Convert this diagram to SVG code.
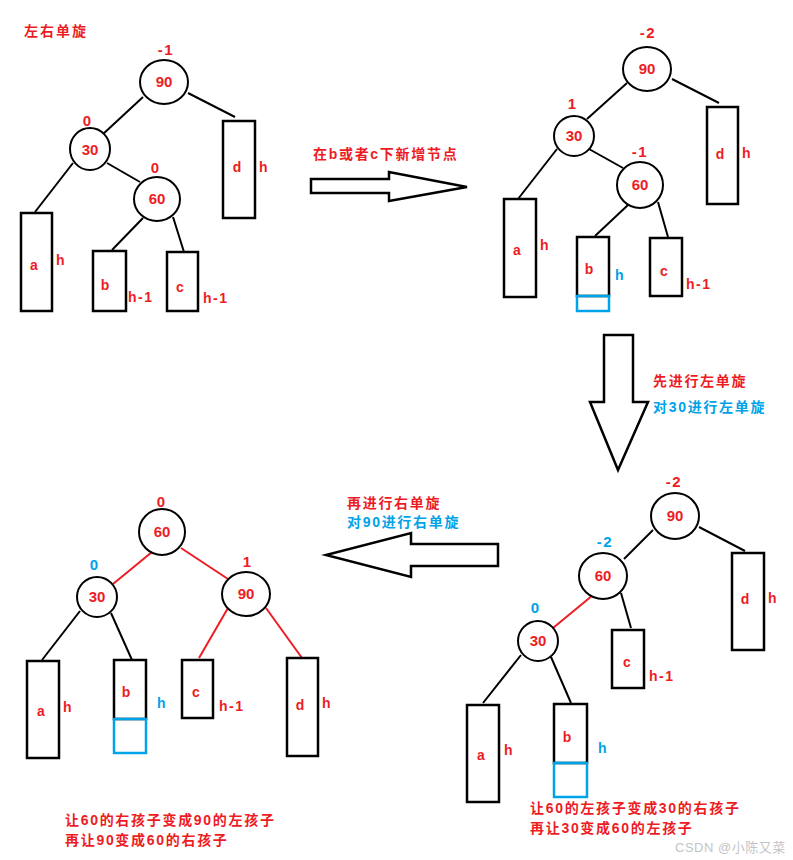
<svg xmlns="http://www.w3.org/2000/svg" width="793" height="860" viewBox="0 0 793 860">
<style>
text{font-family:"Liberation Sans","Noto Sans CJK SC",sans-serif;font-weight:bold;font-size:14px;fill:#ED1C24}
.blue{fill:#00A2E8}
.mid{text-anchor:middle}
.num{font-size:15px}
.hm{letter-spacing:1.5px}
.cjk{letter-spacing:1.7px}
.n{fill:#fff;stroke:#000;stroke-width:2}
.r{fill:#fff;stroke:#000;stroke-width:2.5}
.br{fill:none;stroke:#00A2E8;stroke-width:2.5}
.e{stroke:#000;stroke-width:2;fill:none}
.er{stroke:#ED1C24;stroke-width:2;fill:none}
.ar{fill:#fff;stroke:#000;stroke-width:2.5;stroke-linejoin:miter}
.wm{font-weight:normal;font-size:13px;fill:#c4c4c4;letter-spacing:0.5px}
</style>
<rect width="793" height="860" fill="#fff"/>

<text id="title" x="24" y="36" class="cjk" style="letter-spacing:2px">左右单旋</text>

<g id="connectors">
  <!-- top-left -->
  <line class="e" x1="188" y1="93" x2="235" y2="117"/>
  <line class="e" x1="143" y1="97" x2="102" y2="135"/>
  <line class="e" x1="73" y1="163" x2="35" y2="212"/>
  <line class="e" x1="107" y1="163" x2="140" y2="182"/>
  <line class="e" x1="143" y1="218" x2="112" y2="250"/>
  <line class="e" x1="173" y1="217" x2="184" y2="252"/>
  <!-- top-right -->
  <line class="e" x1="672" y1="79" x2="719" y2="103"/>
  <line class="e" x1="627" y1="83" x2="587" y2="119"/>
  <line class="e" x1="557" y1="149" x2="518" y2="199"/>
  <line class="e" x1="589" y1="149" x2="623" y2="168"/>
  <line class="e" x1="628" y1="205" x2="595" y2="236"/>
  <line class="e" x1="658" y1="202" x2="668" y2="237"/>
  <!-- bottom-right -->
  <line class="e" x1="699" y1="527" x2="745" y2="551"/>
  <line class="e" x1="653" y1="530" x2="624" y2="559"/>
  <line class="er" x1="593" y1="595" x2="553" y2="628"/>
  <line class="e" x1="621" y1="593" x2="631" y2="628"/>
  <line class="e" x1="521" y1="655" x2="483" y2="703"/>
  <line class="e" x1="551" y1="657" x2="571" y2="703"/>
  <!-- bottom-left -->
  <line class="er" x1="152" y1="552" x2="113" y2="584"/>
  <line class="er" x1="181" y1="548" x2="228" y2="579"/>
  <line class="e" x1="80" y1="611" x2="42" y2="660"/>
  <line class="e" x1="111" y1="613" x2="132" y2="660"/>
  <line class="er" x1="228" y1="608" x2="199" y2="658"/>
  <line class="er" x1="266" y1="608" x2="302" y2="658"/>
</g>

<g id="arrows">
  <polygon id="arrow-right" class="ar" points="311,179 389,179 389,172 467,187 389,201 389,193 311,193"/>
  <polygon id="arrow-down" class="ar" points="604,335 633,335 633,402 648,402 618,470 590,402 604,402"/>
  <polygon id="arrow-left" class="ar" points="498,544 411,544 411,533 326,555 411,577 411,566 498,566"/>
</g>

<!-- Top-left tree -->
<g id="tl-90"><ellipse class="n" cx="164" cy="82" rx="24" ry="22"/><text class="mid num" x="164" y="87">90</text><text class="mid num hm" x="166" y="55">-1</text></g>
<g id="tl-30"><ellipse class="n" cx="90" cy="149" rx="20" ry="21"/><text class="mid num" x="90" y="155">30</text><text class="mid num" x="87" y="126">0</text></g>
<g id="tl-60"><ellipse class="n" cx="157" cy="199" rx="23" ry="22"/><text class="mid num" x="157" y="204">60</text><text class="mid num" x="155" y="173">0</text></g>
<g id="tl-a"><rect class="r" x="21" y="213" width="31" height="98"/><text class="mid" x="34" y="270">a</text><text x="56" y="265">h</text></g>
<g id="tl-b"><rect class="r" x="93" y="251" width="33" height="60"/><text class="mid" x="105" y="290">b</text><text class="hm" x="128" y="302">h-1</text></g>
<g id="tl-c"><rect class="r" x="167" y="252" width="31" height="59"/><text class="mid" x="180" y="292">c</text><text class="hm" x="203" y="303">h-1</text></g>
<g id="tl-d"><rect class="r" x="223" y="121" width="32" height="97"/><text class="mid" x="237" y="172">d</text><text x="259" y="172">h</text></g>

<text id="label-insert" x="313" y="159" class="cjk">在b或者c下新增节点</text>

<!-- Top-right tree -->
<g id="tr-90"><ellipse class="n" cx="647" cy="69" rx="24" ry="22"/><text class="mid num" x="647" y="74">90</text><text class="mid num hm" x="648" y="38">-2</text></g>
<g id="tr-30"><ellipse class="n" cx="574" cy="136" rx="20" ry="20"/><text class="mid num" x="574" y="141">30</text><text class="mid num" x="572" y="109">1</text></g>
<g id="tr-60"><ellipse class="n" cx="640" cy="185" rx="23" ry="23"/><text class="mid num" x="640" y="190">60</text><text class="mid num hm" x="640" y="157">-1</text></g>
<g id="tr-a"><rect class="r" x="504" y="199" width="32" height="98"/><text class="mid" x="517" y="255">a</text><text x="540" y="250">h</text></g>
<g id="tr-b"><rect class="r" x="577" y="237" width="32" height="59"/><rect class="br" x="577" y="296" width="32" height="15"/><text class="mid" x="589" y="274">b</text><text class="blue" x="615" y="280">h</text></g>
<g id="tr-c"><rect class="r" x="650" y="238" width="32" height="58"/><text class="mid" x="664" y="276">c</text><text class="hm" x="686" y="289">h-1</text></g>
<g id="tr-d"><rect class="r" x="707" y="107" width="31" height="97"/><text class="mid" x="720" y="159">d</text><text x="742" y="158">h</text></g>

<text id="label-step1" x="653" y="386" class="cjk">先进行左单旋</text>
<text id="label-step1b" x="653" y="412" class="cjk blue">对30进行左单旋</text>

<!-- Bottom-right tree -->
<g id="br-90"><ellipse class="n" cx="675" cy="516" rx="24" ry="23"/><text class="mid num" x="675" y="521">90</text><text class="mid num hm" x="674" y="487">-2</text></g>
<g id="br-60"><ellipse class="n" cx="603" cy="576" rx="24" ry="23"/><text class="mid num" x="603" y="581">60</text><text class="mid num hm blue" x="605" y="547">-2</text></g>
<g id="br-30"><ellipse class="n" cx="538" cy="641" rx="20" ry="20"/><text class="mid num" x="538" y="646">30</text><text class="mid num blue" x="535" y="613">0</text></g>
<g id="br-a"><rect class="r" x="467" y="705" width="32" height="97"/><text class="mid" x="481" y="760">a</text><text x="504" y="755">h</text></g>
<g id="br-b"><rect class="r" x="554" y="704" width="33" height="59"/><rect class="br" x="554" y="763" width="33" height="34"/><text class="mid" x="567" y="742">b</text><text class="blue" x="598" y="753">h</text></g>
<g id="br-c"><rect class="r" x="612" y="630" width="32" height="58"/><text class="mid" x="627" y="667">c</text><text class="hm" x="649" y="681">h-1</text></g>
<g id="br-d"><rect class="r" x="732" y="553" width="32" height="97"/><text class="mid" x="745" y="604">d</text><text x="768" y="603">h</text></g>

<text id="label-br1" x="530" y="813" class="cjk">让60的左孩子变成30的右孩子</text>
<text id="label-br2" x="530" y="833" class="cjk">再让30变成60的左孩子</text>

<text id="label-step2" x="347" y="508" class="cjk">再进行右单旋</text>
<text id="label-step2b" x="347" y="527" class="cjk blue">对90进行右单旋</text>

<!-- Bottom-left tree -->
<g id="bl-60"><ellipse class="n" cx="162" cy="532" rx="23" ry="23"/><text class="mid num" x="162" y="537">60</text><text class="mid num" x="161" y="507">0</text></g>
<g id="bl-30"><ellipse class="n" cx="97" cy="597" rx="20" ry="20"/><text class="mid num" x="97" y="602">30</text><text class="mid num blue" x="94" y="570">0</text></g>
<g id="bl-90"><ellipse class="n" cx="246" cy="594" rx="24" ry="22"/><text class="mid num" x="246" y="599">90</text><text class="mid num" x="247" y="567">1</text></g>
<g id="bl-a"><rect class="r" x="27" y="661" width="32" height="97"/><text class="mid" x="41" y="716">a</text><text x="63" y="712">h</text></g>
<g id="bl-b"><rect class="r" x="114" y="660" width="32" height="59"/><rect class="br" x="114" y="719" width="32" height="34"/><text class="mid" x="126" y="697">b</text><text class="blue" x="157" y="708">h</text></g>
<g id="bl-c"><rect class="r" x="182" y="660" width="31" height="58"/><text class="mid" x="196" y="697">c</text><text class="hm" x="219" y="711">h-1</text></g>
<g id="bl-d"><rect class="r" x="287" y="658" width="31" height="98"/><text class="mid" x="300" y="710">d</text><text x="322" y="708">h</text></g>

<text id="label-bl1" x="65" y="825" class="cjk">让60的右孩子变成90的左孩子</text>
<text id="label-bl2" x="65" y="845" class="cjk">再让90变成60的右孩子</text>

<text id="watermark" x="675" y="852" class="wm">CSDN @小陈又菜</text>
</svg>
